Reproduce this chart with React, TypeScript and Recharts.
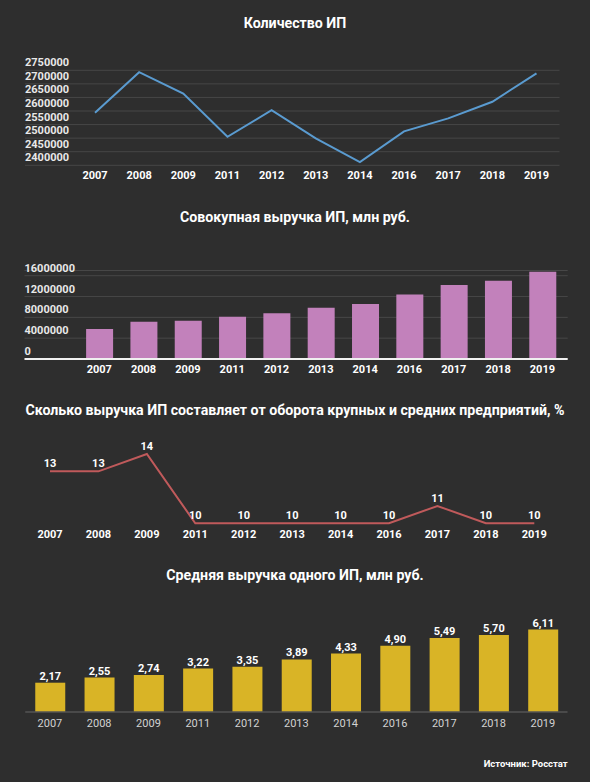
import React from "react";
import {
  LineChart,
  Line,
  BarChart,
  Bar,
  XAxis,
  YAxis,
  CartesianGrid,
  LabelList,
} from "recharts";

const years = ["2007", "2008", "2009", "2011", "2012", "2013", "2014", "2016", "2017", "2018", "2019"];
const entrepreneurs = [2594000, 2743000, 2664000, 2505000, 2603000, 2499000, 2412000, 2525000, 2573000, 2634000, 2739000];
const revenueTotal = [5760000, 7170000, 7370000, 8130000, 8770000, 9860000, 10550000, 12410000, 14200000, 15040000, 16770000];
const sharePct = [13, 13, 14, 10, 10, 10, 10, 10, 11, 10, 10];
const revenueAvg = [2.17, 2.55, 2.74, 3.22, 3.35, 3.89, 4.33, 4.9, 5.49, 5.7, 6.11];

const countTicks = [2400000, 2450000, 2500000, 2550000, 2600000, 2650000, 2700000, 2750000];
const revenueTicks = [0, 4000000, 8000000, 12000000, 16000000];

const titles = [
  "Количество ИП",
  "Совокупная выручка ИП, млн руб.",
  "Сколько выручка ИП составляет от оборота крупных и средних предприятий, %",
  "Средняя выручка одного ИП, млн руб.",
];
const sourceText = "Источник: Росстат";

const data = years.map((year, i) => ({
  year,
  count: entrepreneurs[i],
  revenue: revenueTotal[i],
  share: sharePct[i],
  avg: revenueAvg[i],
}));

const FONT = "Roboto, 'Noto Sans', sans-serif";
const BG = "#2e2e2e";

const renderYLeftTick = (props: any) => {
  const { x, y, payload } = props;
  return (
    <text x={x} y={y - 4} fill="#e8e8e8" fontSize={11} fontWeight={700} fontFamily={FONT} textAnchor="start">
      {String(payload.value)}
    </text>
  );
};

const makeXTick = (dy: number, color: string, weight: number) => (props: any) => {
  const { x, y, payload } = props;
  return (
    <text x={x} y={y + dy} fill={color} fontSize={11} fontWeight={weight} fontFamily={FONT} textAnchor="middle">
      {payload.value}
    </text>
  );
};

const Title = ({ text, center }: { text: string; center: number }) => (
  <div
    style={{
      position: "absolute",
      left: 0,
      top: center - 10,
      width: 590,
      height: 20,
      lineHeight: "20px",
      textAlign: "center",
      color: "#ffffff",
      fontFamily: FONT,
      fontWeight: 700,
      fontSize: 14.2,
      whiteSpace: "nowrap",
    }}
  >
    {text}
  </div>
);

export default function App() {
  return (
    <div
      style={{
        position: "absolute",
        left: 0,
        top: 0,
        width: 590,
        height: 782,
        background: BG,
        overflow: "hidden",
        fontFamily: FONT,
      }}
    >
      <Title text={titles[0]} center={22.7} />
      <div style={{ position: "absolute", left: 0, top: 0 }}>
        <LineChart width={590} height={200} data={data} margin={{ top: 70.3, right: 30.5, bottom: 4.7, left: 24 }}>
          <CartesianGrid vertical={false} stroke="#474747" strokeWidth={1} />
          <XAxis
            dataKey="year"
            scale="point"
            padding={{ left: 70, right: 23 }}
            axisLine={false}
            tickLine={false}
            tickSize={0}
            tickMargin={0}
            height={30}
            interval={0}
            tick={makeXTick(13.7, "#ffffff", 700)}
          />
          <YAxis
            width={1}
            domain={[2400000, 2750000]}
            ticks={countTicks}
            axisLine={false}
            tickLine={false}
            tickSize={0}
            tickMargin={0}
            interval={0}
            tick={renderYLeftTick}
          />
          <Line type="linear" dataKey="count" stroke="#5a9bd0" strokeWidth={2} dot={false} isAnimationActive={false} />
        </LineChart>
      </div>

      <Title text={titles[1]} center={216.7} />
      <div style={{ position: "absolute", left: 0, top: 200 }}>
        <BarChart width={590} height={190} data={data} margin={{ top: 70.5, right: 22.3, bottom: 3, left: 23.5 }}>
          <CartesianGrid vertical={false} stroke="#474747" strokeWidth={1} />
          <XAxis
            dataKey="year"
            padding={{ left: 52.6, right: 3.1 }}
            axisLine={{ stroke: "#f0f0f0", strokeWidth: 2 }}
            tickLine={false}
            tickSize={0}
            tickMargin={0}
            height={28}
            interval={0}
            tick={makeXTick(13.6, "#ffffff", 700)}
          />
          <YAxis
            width={1}
            domain={[0, 17000000]}
            ticks={revenueTicks}
            axisLine={false}
            tickLine={false}
            tickSize={0}
            tickMargin={0}
            interval={0}
            tick={renderYLeftTick}
          />
          <Bar dataKey="revenue" fill="#c281bb" barSize={27} isAnimationActive={false} />
        </BarChart>
      </div>

      <Title text={titles[2]} center={410} />
      <div style={{ position: "absolute", left: 0, top: 400 }}>
        <LineChart width={590} height={150} data={data} margin={{ top: 54, right: 55.7, bottom: 2.7, left: 50 }}>
          <XAxis
            dataKey="year"
            scale="point"
            padding={{ left: 0, right: 0 }}
            axisLine={false}
            tickLine={false}
            tickSize={0}
            tickMargin={0}
            height={24}
            interval={0}
            tick={makeXTick(14.9, "#ffffff", 700)}
          />
          <YAxis hide domain={[10, 14]} />
          <Line type="linear" dataKey="share" stroke="#c05a5b" strokeWidth={2} dot={false} isAnimationActive={false}>
            <LabelList
              dataKey="share"
              position="top"
              offset={4}
              fill="#ffffff"
              fontSize={11}
              fontWeight={700}
              fontFamily={FONT}
            />
          </Line>
        </LineChart>
      </div>

      <Title text={titles[3]} center={575} />
      <div style={{ position: "absolute", left: 0, top: 560 }}>
        <BarChart width={590} height={200} data={data} margin={{ top: 64.25, right: 22.5, bottom: 18, left: 25.25 }}>
          <XAxis
            dataKey="year"
            padding={{ left: 0, right: 0 }}
            axisLine={{ stroke: "#555555", strokeWidth: 1.5 }}
            tickLine={false}
            tickSize={0}
            tickMargin={0}
            height={30}
            interval={0}
            tick={makeXTick(15.2, "#d2d2d2", 400)}
          />
          <YAxis hide domain={[0, 6.5]} />
          <Bar dataKey="avg" fill="#d9b426" barSize={30} isAnimationActive={false}>
            <LabelList
              dataKey="avg"
              position="top"
              offset={3}
              fill="#ffffff"
              fontSize={11}
              fontWeight={700}
              fontFamily={FONT}
              formatter={(v: any) => Number(v).toFixed(2).replace(".", ",")}
            />
          </Bar>
        </BarChart>
      </div>

      <div
        style={{
          position: "absolute",
          right: 590 - 567.7,
          top: 764.3 - 7,
          height: 14,
          lineHeight: "14px",
          color: "#ffffff",
          fontFamily: FONT,
          fontWeight: 700,
          fontSize: 9.5,
          whiteSpace: "nowrap",
        }}
      >
        {sourceText}
      </div>
    </div>
  );
}
